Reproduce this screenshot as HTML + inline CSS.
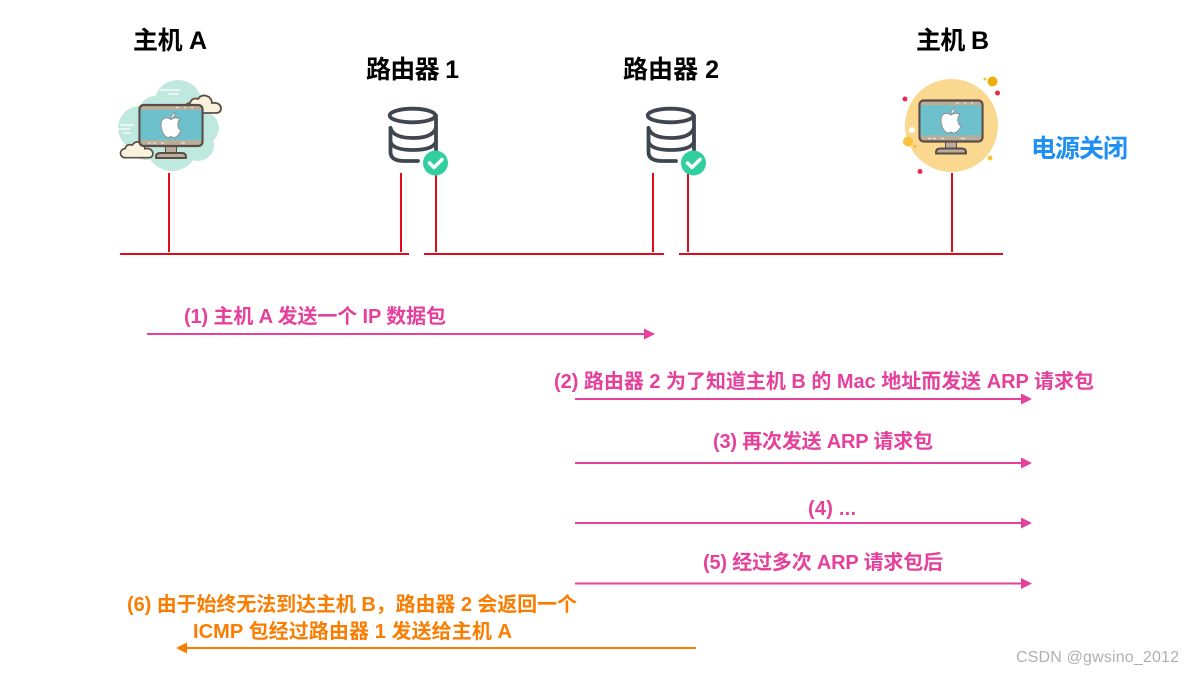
<!DOCTYPE html>
<html><head><meta charset="utf-8"><style>
html,body{margin:0;padding:0;background:#fff}
svg{display:block}
text{font-family:"Liberation Sans","Noto Sans CJK SC",sans-serif;font-weight:700}
.h{font-size:25px;fill:#000}
.p{font-size:20px;fill:#e5409b}
.o{font-size:20px;fill:#f97d00}
</style></head><body>
<svg width="1194" height="675" viewBox="0 0 1194 675" xmlns="http://www.w3.org/2000/svg">
<defs>
<g id="mon">
<rect x="-5.500" y="21" width="11" height="7" fill="#b9ad9c" stroke="#5c4c45" stroke-width="1"/>
<path d="M-15 31.500q0-4 4-4h22q4 0 4 4v1h-30z" fill="#b9ad9c" stroke="#5c4c45" stroke-width="2" stroke-linejoin="round"/>
<rect x="-31.500" y="-20.500" width="63" height="41" rx="4" fill="#b9ad9c" stroke="#5c4c45" stroke-width="2.200"/>
<rect x="-30.500" y="-15.500" width="61" height="30" fill="#6cc1cd"/>
<path d="M5-18h3M13-18h2M20-18h2M-23 17.500h3M-18 17.500h3M-10 17.500h3M10 17.500h4" stroke="#ece6da" stroke-width="1.200"/>
<path d="M0-6C-4-9-10-8-10-1C-10 6-6 12-3 12C-1 12-1 11 0 11C1 11 1 12 3 12C6 12 9 8 10 5C6 3 6-4 9-6C6-9 3-8 0-6z" fill="#fff" stroke="#8f8f8f" stroke-width="1"/>
<path d="M0-7C0-10 2-12 4-13C4-10 3-8 0-7z" fill="#fff" stroke="#8f8f8f" stroke-width=".8"/>
</g>
<g id="cyl" fill="none" stroke="#40464f" stroke-width="3.800" stroke-linecap="round">
<ellipse cx="-.500" cy="-19.500" rx="22.800" ry="6.800"/>
<path d="M23-19.500V15"/>
<path d="M-22.500-7V17q0 9 14 9H5"/>
<path d="M-22.500-7q3 10 22.500 10t23-10"/>
<path d="M-22.500 7q3 8 22.500 8t23-8"/>
</g>
<g id="chk">
<circle r="12.500" fill="#31cfa0"/>
<path d="M-6 0l4.500 4.500l8-8" fill="none" stroke="#fff" stroke-width="3.500" stroke-linecap="round" stroke-linejoin="round"/>
</g>
<path id="cloud" d="M-15 8a5 5 0 0 1 0-10q2-6 8-4q4-6 11-2q3 3 3 6q8-1 9 5q0 5-5 5z" fill="#f9f3dd" stroke="#5c4c45" stroke-width="1.800"/>
</defs>

<!-- red network -->
<g stroke="#e00b1c" stroke-width="2" fill="none">
<path d="M120 254H409M424 254H664M679 254H1003"/>
<path d="M169 173V252M401 173V252M436 173V252M653 173V252M688 173V252M952 173V252"/>
</g>

<text class="h" x="133" y="49" textLength="74">主机 A</text>
<text class="h" x="366" y="78" textLength="93">路由器 1</text>
<text class="h" x="623" y="78" textLength="96">路由器 2</text>
<text class="h" x="916" y="49" textLength="73">主机 B</text>
<text class="h" x="1031" y="157" textLength="97" style="fill:#1e90f5">电源关闭</text>

<!-- host A -->
<g fill="#bfe9df">
<circle cx="178" cy="104" r="24"/>
<circle cx="140" cy="128" r="22"/>
<circle cx="155" cy="112" r="16"/>
<circle cx="203" cy="128" r="16"/>
<circle cx="172" cy="145" r="26"/>
<circle cx="198" cy="145" r="16"/>
<circle cx="170" cy="125" r="30"/>
<circle cx="146" cy="146" r="14"/>
</g>
<path d="M160 90h20M168 94h10M120 125h14M118 129h12M123 133h8" stroke="#fff" stroke-width="1.300"/>
<use href="#cloud" transform="translate(205,105)"/>
<use href="#cloud" transform="translate(138.500,150.500) scale(.9)"/>
<use href="#mon" transform="translate(171,125.500)"/>

<!-- routers -->
<use href="#cyl" transform="translate(413,135)"/>
<use href="#chk" transform="translate(435.500,163)"/>
<use href="#cyl" transform="translate(671,135)"/>
<use href="#chk" transform="translate(693.500,163)"/>

<!-- host B -->
<circle cx="951.500" cy="125.500" r="46.500" fill="#fbd88f"/>
<use href="#mon" transform="translate(951,121)"/>
<circle cx="992.500" cy="81.500" r="5" fill="#efae07"/>
<circle cx="985" cy="79" r="1.500" fill="#f5c33b"/>
<circle cx="997.500" cy="93" r="2.500" fill="#e8294e"/>
<circle cx="905" cy="99" r="2.500" fill="#e8294e"/>
<circle cx="908" cy="141.500" r="5" fill="#f7c33c"/>
<circle cx="912" cy="130" r="3" fill="#fff"/>
<circle cx="915" cy="146.500" r="1.500" fill="#f5b82e"/>
<circle cx="990" cy="158" r="2.500" fill="#f7c33c"/>
<circle cx="920" cy="171.500" r="2.500" fill="#e8294e"/>

<!-- pink arrows -->
<g stroke="#e5409b" stroke-width="2" fill="none">
<path d="M147 334H646M575 399H1022M575 463H1022M575 523H1022M575 583.500H1022"/>
</g>
<g fill="#e5409b">
<path d="M655 334l-11-5.500v11z"/>
<path d="M1032 399l-11-5.500v11z"/>
<path d="M1032 463l-11-5.500v11z"/>
<path d="M1032 523l-11-5.500v11z"/>
<path d="M1032 583.500l-11-5.500v11z"/>
</g>
<text class="p" x="184" y="323" textLength="262">(1) 主机 A 发送一个 IP 数据包</text>
<text class="p" x="554" y="388" textLength="540">(2) 路由器 2 为了知道主机 B 的 Mac 地址而发送 ARP 请求包</text>
<text class="p" x="713" y="448" textLength="220">(3) 再次发送 ARP 请求包</text>
<text class="p" x="808" y="515" textLength="48">(4) ...</text>
<text class="p" x="703" y="569" textLength="240">(5) 经过多次 ARP 请求包后</text>

<!-- orange -->
<path d="M696 648H185" stroke="#f97d00" stroke-width="2" fill="none"/>
<path d="M176 648l11-5.500v11z" fill="#f97d00"/>
<text class="o" x="127" y="611" textLength="450">(6) 由于始终无法到达主机 B，路由器 2 会返回一个</text>
<text class="o" x="193" y="638" textLength="319">ICMP 包经过路由器 1 发送给主机 A</text>

<text x="1016" y="662" textLength="163" style="font-size:16px;font-weight:400;fill:#b0b0b0">CSDN @gwsino_2012</text>
</svg>
</body></html>
